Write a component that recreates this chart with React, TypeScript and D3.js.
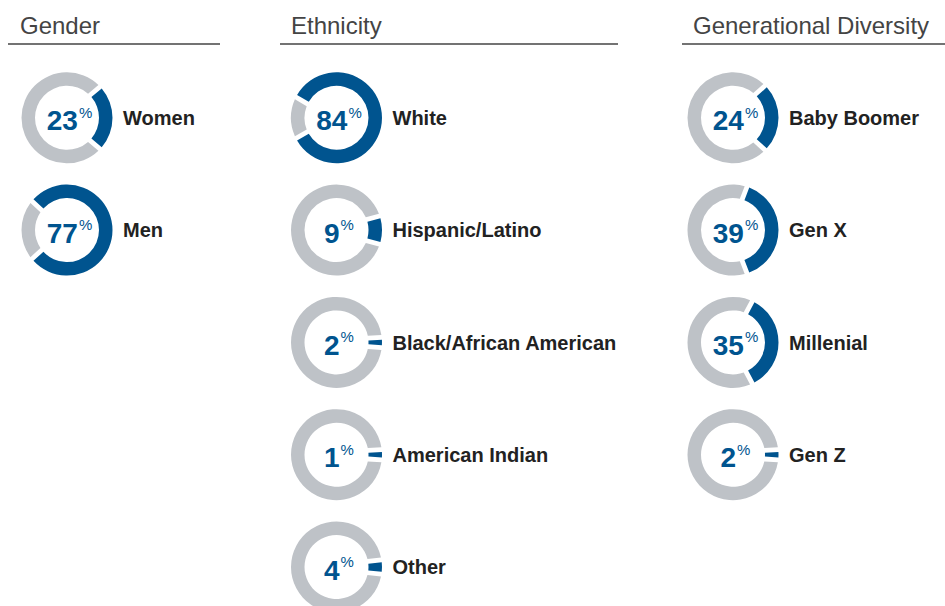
import React from "react";
import * as d3 from "d3";

const genderLabels = ["Women", "Men"];
const genderValues = [23, 77];
const ethnicityLabels = ["White", "Hispanic/Latino", "Black/African American", "American Indian", "Other"];
const ethnicityValues = [84, 9, 2, 1, 4];
const generationLabels = ["Baby Boomer", "Gen X", "Millenial", "Gen Z"];
const generationValues = [24, 39, 35, 2];
const groupTitles = ["Gender", "Ethnicity", "Generational Diversity"];

const BLUE = "#00548f";
const GRAY = "#bec2c7";
const W = 945;
const H = 606;

const columns = [
  { title: groupTitles[0], labels: genderLabels, values: genderValues, cx: 67, titleX: 20, lineX0: 8, lineX1: 220 },
  { title: groupTitles[1], labels: ethnicityLabels, values: ethnicityValues, cx: 336.5, titleX: 291, lineX0: 280, lineX1: 618 },
  { title: groupTitles[2], labels: generationLabels, values: generationValues, cx: 733, titleX: 693, lineX0: 682, lineX1: 945 },
];

const outerR = 45.5;
const innerR = 32;
const y = d3.scaleLinear().domain([0, 1]).range([117.8, 230.1]);
const frac = d3.scaleLinear().domain([0, 100]).range([0, 1]);

function Donut({ cx, cy, value, label }: { cx: number; cy: number; value: number; label: string }) {
  const half = Math.max(frac(value) * Math.PI - 0.02, 0.06);
  const mid = Math.PI / 2;
  const blue = d3.arc()({
    innerRadius: innerR,
    outerRadius: outerR,
    startAngle: mid - half,
    endAngle: mid + half,
  } as any) as string;
  const grayGen = d3
    .arc()
    .padRadius(outerR)
    .padAngle(2 * Math.asin(4.8 / outerR));
  const gray = grayGen({
    innerRadius: innerR,
    outerRadius: outerR,
    startAngle: mid + half,
    endAngle: mid - half + 2 * Math.PI,
  } as any) as string;
  return (
    <g transform={`translate(${cx},${cy})`}>
      <path d={gray} fill={GRAY} />
      <path d={blue} fill={BLUE} />
      <text x={2.5} y={12.5} textAnchor="middle" fill={BLUE} fontFamily="'Liberation Sans', Arial, sans-serif" fontWeight="bold">
        <tspan fontSize={28}>{value}</tspan>
        <tspan fontSize={15} fontWeight="normal" dx={1} dy={-12.5}>%</tspan>
      </text>
      <text x={56} y={7.2} fill="#222" fontSize={20} fontWeight="bold" fontFamily="'Liberation Sans', Arial, sans-serif">
        {label}
      </text>
    </g>
  );
}

export default function App() {
  return (
    <svg
      width={W}
      height={H}
      viewBox={`0 0 ${W} ${H}`}
      style={{ position: "fixed", left: 0, top: 0, background: "#fff" }}
    >
      {columns.map((col, ci) => (
        <g key={ci}>
          <text x={col.titleX} y={34} fontSize={24} fill="#444" fontFamily="'Liberation Sans', Arial, sans-serif">
            {col.title}
          </text>
          <line x1={col.lineX0} x2={col.lineX1} y1={44} y2={44} stroke="#444" strokeWidth={1.3} />
          {col.values.map((v, i) => (
            <Donut key={i} cx={col.cx} cy={y(i)} value={v} label={col.labels[i]} />
          ))}
        </g>
      ))}
    </svg>
  );
}
